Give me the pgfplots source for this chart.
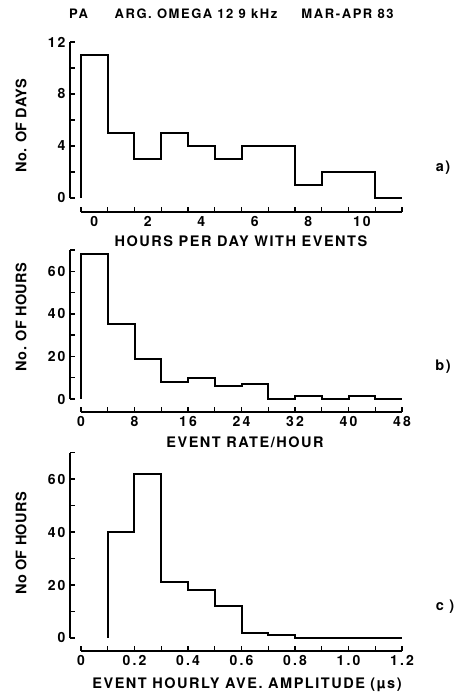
\documentclass[border=0pt]{standalone}
\usepackage{fontspec}
\setmainfont{TeX Gyre Heros}
\usepackage{pgfplots}
\pgfplotsset{compat=1.18}
\newcommand{\lab}{\fontsize{14.5}{17}\selectfont\bfseries\addfontfeature{LetterSpace=10.5}}
\newcommand{\ylab}{\fontsize{14.5}{17}\selectfont\bfseries\addfontfeature{LetterSpace=2}}
\newcommand{\ttl}{\fontsize{13}{16}\selectfont\bfseries\addfontfeature{LetterSpace=12}}
\pgfplotsset{
  histo/.style={
    scale only axis, clip=false,
    width=332pt,
    axis lines*=left, axis line style={draw=none},
    tick align=inside,
    major tick length=5pt,
    minor tick num=0,
    tick style={black, line width=1.4pt},
    /pgf/number format/assume math mode=true,
    ticklabel style={font=\fontsize{14}{16}\selectfont\bfseries\addfontfeature{LetterSpace=15}},
    xticklabel style={yshift=-1pt},
    yticklabel style={xshift=-1pt},
  },
  hline/.style={const plot, line width=2pt, black},
}
\begin{document}
\begin{tikzpicture}
\path[use as bounding box] (0,0) rectangle (458pt,695pt);

% panel a
\begin{axis}[histo, at={(70pt,483pt)}, anchor=south west, height=170pt,
  xmin=-0.911, xmax=11.5, ymin=-1.077, ymax=12,
  xtick={-0.5,0.5,1.5,2.5,3.5,4.5,5.5,6.5,7.5,8.5,9.5,10.5,11.5}, xticklabels={},
  extra x ticks={0,2,4,6,8,10}, extra x tick labels={0,2,4,6,8,10},
  extra x tick style={major tick length=0pt},
  ytick={0,2,4,6,8,10,12}, yticklabels={0,,4,,8,,12}]
\addplot[hline] coordinates {(-0.5,0) (-0.5,11) (0.5,5) (1.5,3) (2.5,5) (3.5,4) (4.5,3) (5.5,4) (6.5,4) (7.5,1) (8.5,2) (9.5,2) (10.5,0) (11.5,0)};
\draw[line width=2pt] (axis cs:-0.5,-1.077) -- (axis cs:11.5,-1.077);
\draw[line width=2pt] (axis cs:-0.911,0) -- (axis cs:-0.911,12);
\end{axis}

% panel b
\begin{axis}[histo, at={(70pt,283pt)}, anchor=south west, height=162pt,
  xmin=-1.645, xmax=48, ymin=-6.107, ymax=70,
  xtick={0,4,8,12,16,20,24,28,32,36,40,44,48}, xticklabels={0,,8,,16,,24,,32,,40,,48},
  ytick={0,10,20,30,40,50,60,70}, yticklabels={0,,20,,40,,60,}]
\addplot[hline] coordinates {(0,0) (0,68) (4,35) (8,19) (12,8) (16,10) (20,6) (24,7) (28,0) (32,1.5) (36,0) (40,1.5) (44,0) (48,0)};
\draw[line width=2pt] (axis cs:0,-6.107) -- (axis cs:48,-6.107);
\draw[line width=2pt] (axis cs:-1.645,0) -- (axis cs:-1.645,70);
\end{axis}

% panel c
\begin{axis}[histo, at={(70pt,44.3pt)}, anchor=south west, height=198pt,
  xmin=-0.0411, xmax=1.2, ymin=-4.8, ymax=70,
  xtick={0,0.1,0.2,0.3,0.4,0.5,0.6,0.7,0.8,0.9,1.0,1.1,1.2},
  xticklabels={0,,0.2,,0.4,,0.6,,0.8,,1.0,,1.2},
  ytick={0,10,20,30,40,50,60,70}, yticklabels={0,,20,,40,,60,}]
\addplot[hline] coordinates {(0.1,0) (0.1,40) (0.2,62) (0.3,21) (0.4,18) (0.5,12) (0.6,2) (0.7,1) (0.8,0) (1.2,0)};
\draw[line width=2pt] (axis cs:0,-4.8) -- (axis cs:1.2,-4.8);
\draw[line width=2pt] (axis cs:-0.0411,0) -- (axis cs:-0.0411,70);
\end{axis}

% texts
\node[font=\ttl] at (78.5pt,681pt) {PA};
\node[font=\ttl] at (196pt,681pt) {ARG. OMEGA 12 9 kHz};
\node[font=\ttl] at (347.5pt,681pt) {MAR-APR 83};

\node[font=\ylab, rotate=90] at (21pt,569pt) {No. OF DAYS};
\node[font=\lab] at (443pt,527pt) {a)};
\node[font=\lab] at (241pt,453.3pt) {HOURS PER DAY WITH EVENTS};

\node[font=\ylab, rotate=90] at (21pt,378pt) {No. OF HOURS};
\node[font=\lab] at (443pt,328.3pt) {b)};
\node[font=\lab] at (245pt,252.5pt) {EVENT RATE/HOUR};

\node[font=\ylab, rotate=90] at (21pt,151.5pt) {No OF HOURS};
\node[font=\lab] at (445pt,88.3pt) {c )};
\node[font=\lab] at (247pt,10pt) {EVENT HOURLY AVE. AMPLITUDE (µs)};
\end{tikzpicture}
\end{document}
